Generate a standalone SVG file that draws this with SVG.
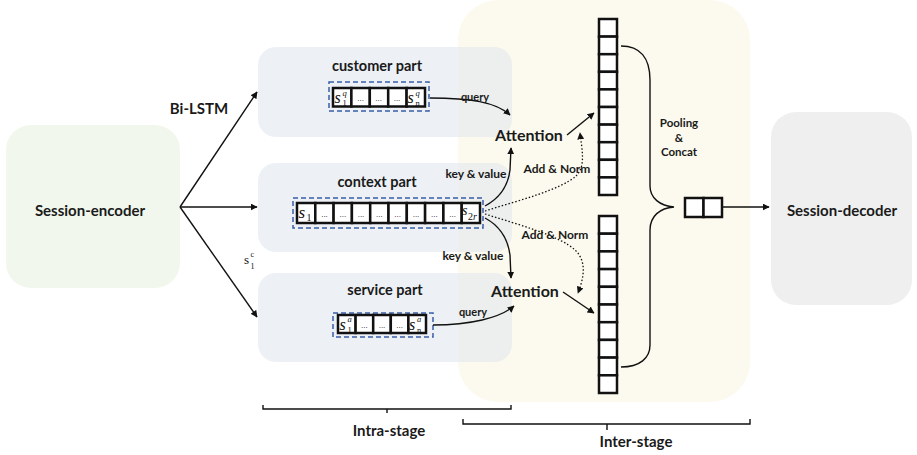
<svg xmlns="http://www.w3.org/2000/svg" width="917" height="455" viewBox="0 0 917 455">
<style>
.b{font-family:Lato,"Liberation Sans",sans-serif;font-weight:bold;fill:#1a1a1a}
.lbl{font-size:15px}
.sm{font-size:12px}
.ttl{font-size:14.5px}
.cell{fill:#fff;stroke:#111;stroke-width:2.5}
.dash{fill:none;stroke:#3a5ea8;stroke-width:1.5;stroke-dasharray:5,3}
.part{fill:#dbe4ee;fill-opacity:0.5}
.ln{fill:none;stroke:#111;stroke-width:1.4}
.dot{fill:none;stroke:#111;stroke-width:1.3;stroke-dasharray:1.5,2}
.m{font-family:"Liberation Serif","DejaVu Serif",serif;fill:#111}
.it{font-style:italic}
.el{font-family:"Liberation Sans",sans-serif;font-size:8px;fill:#111;text-anchor:middle}
</style>
<defs>
<marker id="ah" viewBox="0 0 10 10" refX="9" refY="5" markerWidth="7" markerHeight="7" markerUnits="userSpaceOnUse" orient="auto">
<path d="M0,0 L10,5 L0,10 z" fill="#111"/>
</marker>
</defs>

<g id="inter-panel"><rect x="458" y="0" width="292" height="402" rx="40" fill="#fcfaee"/></g>

<g id="session-encoder">
<rect x="6" y="125" width="174" height="163" rx="25" fill="#f2f7ee"/>
<text class="b lbl" x="90" y="216" text-anchor="middle">Session-encoder</text>
</g>

<g id="session-decoder">
<rect x="771" y="112" width="141" height="193" rx="25" fill="#efefef"/>
<text class="b lbl" x="842" y="216" text-anchor="middle">Session-decoder</text>
</g>

<g id="customer-part">
<rect class="part" x="258" y="47" width="254" height="90" rx="18"/>
<text class="b ttl" x="377" y="71" text-anchor="middle">customer part</text>
<rect class="dash" x="329" y="82" width="100" height="29"/>
<rect class="cell" x="333" y="88" width="18.4" height="18.5"/>
<rect class="cell" x="351.4" y="88" width="18.4" height="18.5"/>
<rect class="cell" x="369.8" y="88" width="18.4" height="18.5"/>
<rect class="cell" x="388.2" y="88" width="18.4" height="18.5"/>
<rect class="cell" x="406.6" y="88" width="18.4" height="18.5"/>
<text class="m it" x="334.5" y="103" font-size="16">s</text>
<text class="m it" x="342.5" y="95.5" font-size="8.5">q</text>
<text class="m" x="342.5" y="106" font-size="8.5">1</text>
<text class="el" x="378.6" y="101">...</text><text class="el" x="397" y="101">...</text><text class="el" x="360.6" y="101">...</text>
<text class="m it" x="407.5" y="103" font-size="16">s</text>
<text class="m it" x="415.5" y="95.5" font-size="8.5">q</text>
<text class="m" x="415.5" y="106" font-size="8.5">n</text>
</g>

<g id="context-part">
<rect class="part" x="258" y="163" width="254" height="89" rx="18"/>
<text class="b ttl" x="377" y="187" text-anchor="middle">context part</text>
<rect class="dash" x="293" y="198" width="190" height="30"/>
<rect class="cell" x="297" y="203" width="18.3" height="20"/>
<rect class="cell" x="315.3" y="203" width="18.3" height="20"/>
<rect class="cell" x="333.6" y="203" width="18.3" height="20"/>
<rect class="cell" x="351.9" y="203" width="18.3" height="20"/>
<rect class="cell" x="370.2" y="203" width="18.3" height="20"/>
<rect class="cell" x="388.5" y="203" width="18.3" height="20"/>
<rect class="cell" x="406.8" y="203" width="18.3" height="20"/>
<rect class="cell" x="425.1" y="203" width="18.3" height="20"/>
<rect class="cell" x="443.4" y="203" width="18.3" height="20"/>
<rect class="cell" x="461.7" y="203" width="18.3" height="20"/>
<text class="m it" x="298.5" y="218" font-size="17">s</text>
<text class="m" x="306.5" y="220.5" font-size="10">1</text>
<text class="el" x="324.5" y="217">...</text><text class="el" x="342.8" y="217">...</text><text class="el" x="361" y="217">...</text><text class="el" x="379.3" y="217">...</text><text class="el" x="397.6" y="217">...</text><text class="el" x="416" y="217">...</text><text class="el" x="434.3" y="217">...</text><text class="el" x="452.6" y="217">...</text>
<text class="m it" x="462" y="215" font-size="14">s</text>
<text class="m" x="468" y="219.5" font-size="10">2<tspan font-style="italic">r</tspan></text>
</g>

<g id="service-part">
<rect class="part" x="258" y="273" width="254" height="89" rx="18"/>
<text class="b ttl" x="385" y="295" text-anchor="middle">service part</text>
<rect class="dash" x="333" y="313" width="100" height="24"/>
<rect class="cell" x="338" y="315" width="17.6" height="18"/>
<rect class="cell" x="355.6" y="315" width="17.6" height="18"/>
<rect class="cell" x="373.2" y="315" width="17.6" height="18"/>
<rect class="cell" x="390.8" y="315" width="17.6" height="18"/>
<rect class="cell" x="408.4" y="315" width="17.6" height="18"/>
<text class="m it" x="339.5" y="329.5" font-size="16">s</text>
<text class="m it" x="347.5" y="322" font-size="8.5">a</text>
<text class="m" x="347.5" y="332.5" font-size="8.5">1</text>
<text class="el" x="364.4" y="328">...</text><text class="el" x="382" y="328">...</text><text class="el" x="399.6" y="328">...</text>
<text class="m it" x="409" y="329.5" font-size="16">s</text>
<text class="m it" x="417" y="322" font-size="8.5">a</text>
<text class="m" x="417" y="332.5" font-size="8.5">n</text>
</g>

<g id="attention-top"><text class="b" font-size="16" x="529" y="141" text-anchor="middle">Attention</text></g>
<g id="attention-bottom"><text class="b" font-size="16" x="525" y="297" text-anchor="middle">Attention</text></g>

<g id="bar-top">
<rect class="cell" x="599" y="19" width="18" height="17.6"/>
<rect class="cell" x="599" y="36.6" width="18" height="17.6"/>
<rect class="cell" x="599" y="54.2" width="18" height="17.6"/>
<rect class="cell" x="599" y="71.8" width="18" height="17.6"/>
<rect class="cell" x="599" y="89.4" width="18" height="17.6"/>
<rect class="cell" x="599" y="107" width="18" height="17.6"/>
<rect class="cell" x="599" y="124.6" width="18" height="17.6"/>
<rect class="cell" x="599" y="142.2" width="18" height="17.6"/>
<rect class="cell" x="599" y="159.8" width="18" height="17.6"/>
<rect class="cell" x="599" y="177.4" width="18" height="17.6"/>
</g>
<g id="bar-bottom">
<rect class="cell" x="599" y="216" width="18" height="17.7"/>
<rect class="cell" x="599" y="233.7" width="18" height="17.7"/>
<rect class="cell" x="599" y="251.4" width="18" height="17.7"/>
<rect class="cell" x="599" y="269.1" width="18" height="17.7"/>
<rect class="cell" x="599" y="286.8" width="18" height="17.7"/>
<rect class="cell" x="599" y="304.5" width="18" height="17.7"/>
<rect class="cell" x="599" y="322.2" width="18" height="17.7"/>
<rect class="cell" x="599" y="339.9" width="18" height="17.7"/>
<rect class="cell" x="599" y="357.6" width="18" height="17.7"/>
<rect class="cell" x="599" y="375.3" width="18" height="17.7"/>
</g>

<g id="output-vector">
<rect class="cell" x="685" y="198" width="18.5" height="19"/>
<rect class="cell" x="703.5" y="198" width="18.5" height="19"/>
</g>

<g id="pooling-label">
<text class="b" font-size="11.5" x="679" y="127" text-anchor="middle">Pooling</text>
<text class="b" font-size="11.5" x="679" y="142" text-anchor="middle">&amp;</text>
<text class="b" font-size="11.5" x="679" y="156" text-anchor="middle">Concat</text>
</g>

<g id="connectors">
<path class="ln" d="M180,207 L257,92" marker-end="url(#ah)"/>
<path class="ln" d="M180,207 L257,207" marker-end="url(#ah)"/>
<path class="ln" d="M180,207 L257,317" marker-end="url(#ah)"/>
<path class="ln" d="M430,98 C470,98 496,102 510,115" marker-end="url(#ah)"/>
<path class="ln" d="M433,325 C470,325 500,318 514,306" marker-end="url(#ah)"/>
<path class="ln" d="M485,206 C500,198 508,186 510,170 L511,148" marker-end="url(#ah)"/>
<path class="ln" d="M485,218 C500,226 508,240 510,255 L511,278" marker-end="url(#ah)"/>
<path class="dot" d="M485,211 C520,200 560,190 576,176 C586,166 582,150 580,133" marker-end="url(#ah)"/>
<path class="dot" d="M485,214 C520,225 560,236 575,250 C588,262 583,280 578,293" marker-end="url(#ah)"/>
<path class="ln" d="M567,135 L594,113" marker-end="url(#ah)"/>
<path class="ln" d="M563,292 L594,313" marker-end="url(#ah)"/>
<path class="ln" d="M621,46 C640,46 650,58 650,80 L650,186 C650,198 660,206 674,207 C660,208 650,216 650,230 L650,345 C650,358 640,367 621,367"/>
<path class="ln" d="M722,207 L769,207" marker-end="url(#ah)"/>
<path class="ln" d="M263,405 L263,409 L511,409 L511,405 M387,409 L387,413"/>
<path class="ln" d="M463,419 L463,424 L750,424 L750,419 M607,424 L607,430"/>
</g>

<g id="edge-labels">
<text class="b lbl" x="199" y="114" text-anchor="middle">Bi-LSTM</text>
<text class="m" x="244" y="264" font-size="13">s</text>
<text class="m" x="250.5" y="256.5" font-size="8">c</text>
<text class="m" x="250.5" y="268.5" font-size="8">1</text>
<text class="b" font-size="11" x="475" y="101" text-anchor="middle">query</text>
<text class="b" font-size="11" x="473" y="316" text-anchor="middle">query</text>
<text class="b sm" x="476" y="178" text-anchor="middle">key &amp; value</text>
<text class="b sm" x="473" y="260" text-anchor="middle">key &amp; value</text>
<text class="b sm" x="557" y="173" text-anchor="middle">Add &amp; Norm</text>
<text class="b sm" x="555" y="239" text-anchor="middle">Add &amp; Norm</text>
<text class="b lbl" x="389" y="436" text-anchor="middle">Intra-stage</text>
<text class="b lbl" x="636" y="447" text-anchor="middle">Inter-stage</text>
</g>
</svg>
